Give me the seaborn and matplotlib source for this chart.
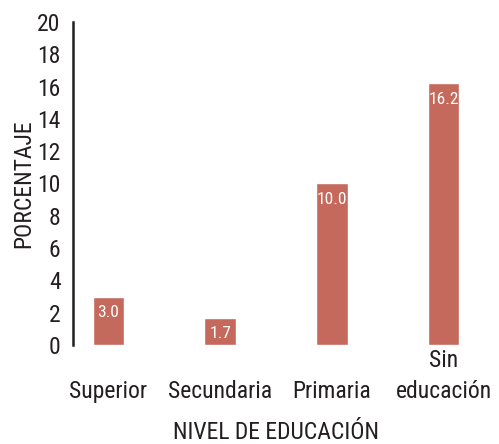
import matplotlib
matplotlib.use("Agg")
import matplotlib.pyplot as plt
import seaborn as sns
import pandas as pd

# Porcentaje por nivel de educación
categories = ["\nSuperior", "\nSecundaria", "\nPrimaria", "Sin\neducación"]
values = [3.0, 1.7, 10.0, 16.2]
y_ticks = [0, 2, 4, 6, 8, 10, 12, 14, 16, 18, 20]

BAR_COLOR = "#C4695B"
TEXT_COLOR = "#231F20"

sns.set_theme(style="white")
plt.rcParams["font.family"] = ["Roboto Condensed", "Roboto", "DejaVu Sans"]
plt.rcParams["font.weight"] = "normal"

df = pd.DataFrame({"nivel": categories, "pct": values})

fig = plt.figure(figsize=(4.99, 4.44), dpi=100)
ax = fig.add_axes([73 / 499, 99 / 444, 406 / 499, 323 / 444])

sns.barplot(data=df, x="nivel", y="pct", color=BAR_COLOR, width=0.28,
            saturation=1, ax=ax)

for i, v in enumerate(values):
    ax.annotate(f"{v:.1f}", xy=(i, v), xytext=(0, -6), textcoords="offset points",
                ha="center", va="top", color="white", fontsize=12.5)

ax.set_xlim(-0.317, 3.317)
ax.set_ylim(0, 20)
ax.set_yticks(y_ticks)
ax.set_yticklabels([str(t) for t in y_ticks])

for side in ["top", "right", "bottom"]:
    ax.spines[side].set_visible(False)
ax.spines["left"].set_color(TEXT_COLOR)
ax.spines["left"].set_linewidth(1.8)

ax.tick_params(axis="both", length=0, labelsize=17, colors=TEXT_COLOR)
ax.tick_params(axis="y", pad=9)
ax.tick_params(axis="x", pad=3)
for lbl in ax.get_xticklabels():
    lbl.set_linespacing(1.45)

ax.set_xlabel("NIVEL DE EDUCACIÓN", fontsize=17, color=TEXT_COLOR, labelpad=12.5)
ax.set_ylabel("PORCENTAJE", fontsize=17, color=TEXT_COLOR, labelpad=1)

fig.savefig("out.png", dpi=100)
